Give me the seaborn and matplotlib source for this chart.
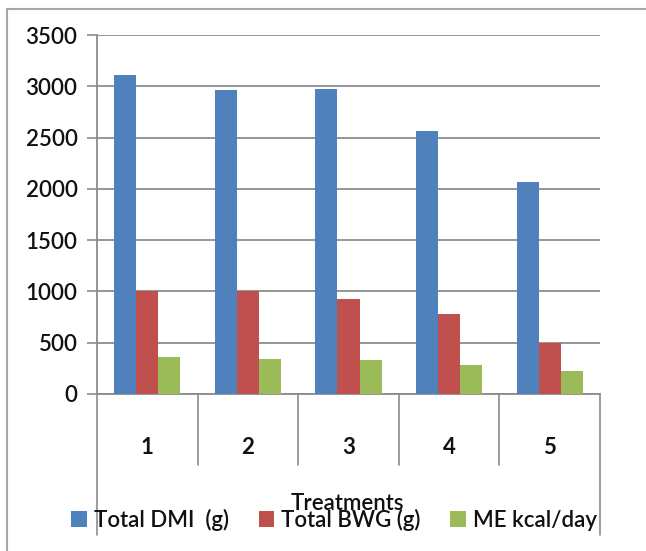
import matplotlib
matplotlib.use("Agg")
import matplotlib.pyplot as plt
from matplotlib.lines import Line2D
from matplotlib.patches import Patch
import matplotlib.transforms as mtransforms
import seaborn as sns
import pandas as pd

# ---- data ----
treatments = ["1", "2", "3", "4", "5"]
series_names = ["Total DMI  (g)", "Total BWG (g)", "ME kcal/day"]
total_dmi = [3107, 2961, 2975, 2560, 2063]
total_bwg = [1000, 1000, 925, 779, 496]
me_kcal = [360, 346, 331, 285, 227]
y_ticks = [0, 500, 1000, 1500, 2000, 2500, 3000, 3500]
x_title = "Treatments"
colors = ["#4F81BD", "#C0504D", "#9BBB59"]

rows = []
for name, vals in zip(series_names, [total_dmi, total_bwg, me_kcal]):
    for t, v in zip(treatments, vals):
        rows.append({"Treatment": t, "Series": name, "Value": v})
df = pd.DataFrame(rows)

sns.set_style("white")
plt.rcParams["font.family"] = ["Lato", "DejaVu Sans"]

W, H = 646, 551
fig = plt.figure(figsize=(W / 100, H / 100), dpi=100)
ax_l, ax_r, ax_t, ax_b = 97, 600, 35, 394
ax = fig.add_axes([ax_l / W, 1 - ax_b / H, (ax_r - ax_l) / W, (ax_b - ax_t) / H])

sns.barplot(data=df, x="Treatment", y="Value", hue="Series", order=treatments,
            hue_order=series_names, palette=colors, saturation=1, width=0.66,
            linewidth=0, ax=ax, legend=False, zorder=3)

grid_c = "#8C8C8C"
wt = "semibold"
ax.set_ylim(0, 3500)
ax.set_xlim(-0.5, len(treatments) - 0.5)
ax.set_yticks(y_ticks)
ax.set_yticklabels([str(v) for v in y_ticks], fontsize=16, fontweight=wt, color="#111111")
ax.set_xticks(range(len(treatments)))
ax.set_xticklabels(treatments, fontsize=16, fontweight="bold", color="#111111")
ax.yaxis.grid(True, color=grid_c, linewidth=1.3, zorder=0)
ax.set_axisbelow(True)
ax.tick_params(axis="y", length=7, width=1.2, color=grid_c, pad=7, direction="out", left=True)
ax.tick_params(axis="x", length=0, pad=31)
ax.set_xlabel("")
ax.set_ylabel("")
for s in ["top", "right"]:
    ax.spines[s].set_visible(False)
for s in ["left", "bottom"]:
    ax.spines[s].set_color(grid_c)
    ax.spines[s].set_linewidth(1.3)

# category separator lines below the axis
trans = mtransforms.blended_transform_factory(ax.transData, ax.transAxes)
axh = ax_b - ax_t
for i in range(len(treatments) + 1):
    x = i - 0.5
    depth = (535 - ax_b) if i in (0, len(treatments)) else (465 - ax_b)
    ax.add_line(Line2D([x, x], [0, -depth / axh], transform=trans, color=grid_c,
                       linewidth=1.2, clip_on=False))

fig.text(347 / W, 1 - 504 / H, x_title, ha="center", va="center", fontsize=16,
         fontweight=wt, color="#111111")

handles = [Patch(facecolor=c, edgecolor="none", label=n) for c, n in zip(colors, series_names)]
leg = fig.legend(handles=handles, loc="center", bbox_to_anchor=(334 / W, 1 - 520 / H), ncol=3,
                 frameon=False, fontsize=16, handlelength=0.7, handleheight=0.7,
                 handletextpad=0.3, columnspacing=1.35)
for t in leg.get_texts():
    t.set_fontweight(wt)
    t.set_color("#111111")

# outer chart border (left and top)
bc = "#A6A6A6"
fig.add_artist(Line2D([7 / W, 7 / W], [0, 1 - 9 / H], transform=fig.transFigure, color=bc, linewidth=1.5))
fig.add_artist(Line2D([7 / W, 1], [1 - 9 / H, 1 - 9 / H], transform=fig.transFigure, color=bc, linewidth=1.5))

fig.savefig("out.png", dpi=100, facecolor="white")
